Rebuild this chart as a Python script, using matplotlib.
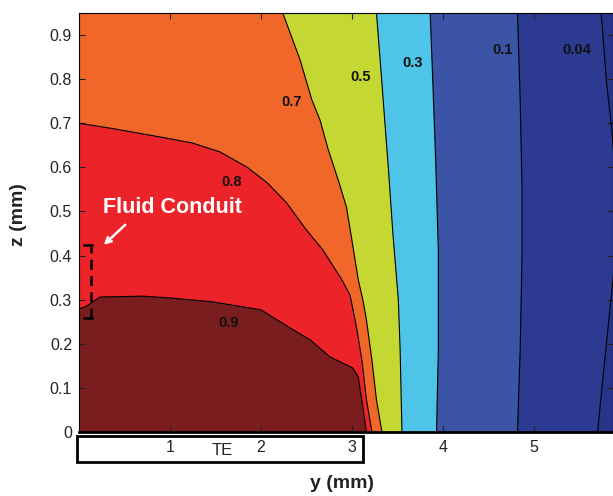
import matplotlib
matplotlib.use("Agg")
import matplotlib.pyplot as plt
from matplotlib.patches import Rectangle
import matplotlib.transforms as mtransforms
import numpy as np

plt.rcParams['font.family'] = ['Liberation Sans', 'DejaVu Sans']

# contour levels and the fill colour of the band just above each level
levels = [0.04, 0.1, 0.3, 0.5, 0.7, 0.8, 0.9]
band_colors = ['#2c3a91', '#3b54a5', '#4ec4e9', '#c5d732', '#f1672a', '#ec2328', '#7a1d1e']
below_color = '#27348a'

# boundary of each level: y (mm) and z (mm)
y_004 = [5.74, 5.80, 5.86, 5.92, 5.87, 5.79, 5.70]
z_004 = [0.95, 0.79, 0.68, 0.50, 0.345, 0.186, 0.0]

y_01 = [4.82, 4.85, 4.87, 4.87, 4.85, 4.82]
z_01 = [0.95, 0.75, 0.55, 0.40, 0.19, 0.0]

y_03 = [3.86, 3.89, 3.92, 3.95, 3.95, 3.93]
z_03 = [0.95, 0.79, 0.62, 0.41, 0.186, 0.0]

y_05 = [3.27, 3.33, 3.40, 3.45, 3.51, 3.53, 3.55]
z_05 = [0.95, 0.79, 0.60, 0.451, 0.30, 0.186, 0.0]

y_07 = [2.24, 2.43, 2.56, 2.65, 2.74, 2.85, 2.94, 3.00, 3.07, 3.12, 3.16, 3.22, 3.27, 3.33]
z_07 = [0.95, 0.844, 0.753, 0.707, 0.64, 0.571, 0.51, 0.435, 0.345, 0.30, 0.254, 0.163, 0.073, 0.0]

y_08 = [0.0, 0.34, 0.89, 1.25, 1.55, 1.85, 2.07, 2.28, 2.50, 2.68, 2.89, 2.98, 3.05, 3.11, 3.16, 3.22]
z_08 = [0.70, 0.689, 0.669, 0.655, 0.635, 0.60, 0.565, 0.52, 0.458, 0.413, 0.345, 0.31, 0.238, 0.163, 0.073, 0.0]

y_09 = [0.0, 0.08, 0.23, 0.70, 1.00, 1.47, 2.00, 2.32, 2.54, 2.76, 3.01, 3.07, 3.12, 3.16]
z_09 = [0.279, 0.285, 0.306, 0.308, 0.304, 0.295, 0.277, 0.236, 0.209, 0.170, 0.145, 0.125, 0.057, 0.0]

boundaries = [(y_004, z_004), (y_01, z_01), (y_03, z_03), (y_05, z_05),
              (y_07, z_07), (y_08, z_08), (y_09, z_09)]

# contour label text and positions
label_text = ['0.04', '0.1', '0.3', '0.5', '0.7', '0.8', '0.9']
label_y = [5.47, 4.66, 3.67, 3.10, 2.34, 1.68, 1.65]
label_z = [0.866, 0.866, 0.837, 0.805, 0.748, 0.567, 0.247]

# fluid conduit marker
conduit_y = 0.13
conduit_z = [0.258, 0.424]

fig = plt.figure(figsize=(6.13, 4.96), dpi=100)
ax = fig.add_axes([79 / 613, 64 / 496, 534 / 613, 419 / 496])
ax.set_xlim(0, 5.87)
ax.set_ylim(0, 0.95)
ax.set_facecolor(below_color)

for (by, bz), col in zip(boundaries, band_colors):
    py = list(by)
    pz = list(bz)
    if pz[0] < 0.95:
        # boundary starts on the left edge
        py = py + [0.0]
        pz = pz + [0.0]
    else:
        py = py + [0.0, 0.0]
        pz = pz + [0.0, 0.95]
    ax.fill(py, pz, color=col, lw=0, zorder=1)

for by, bz in boundaries:
    ax.plot(by, bz, color='black', lw=0.8, zorder=2)

for t, ly, lz in zip(label_text, label_y, label_z):
    ax.text(ly, lz, t, fontsize=10.5, fontweight='bold', ha='center', va='center',
            color='#111111', zorder=3)

# fluid conduit dashed marker with caps
ax.plot([conduit_y, conduit_y], conduit_z, color='black', lw=1.8, ls=(0, (4, 2.5)),
        zorder=3, clip_on=False)
for cz in conduit_z:
    ax.plot([0.06, 0.14], [cz, cz], color='black', lw=1.8, zorder=3)
ax.annotate('', xy=(0.25, 0.42), xytext=(0.53, 0.474),
            arrowprops=dict(arrowstyle='->', color='white', lw=1.8), zorder=4)
ax.text(0.26, 0.508, 'Fluid Conduit', color='white', fontsize=15.5, fontweight='bold',
        ha='left', va='center', zorder=4)

ax.set_xticks([1, 2, 3, 4, 5])
ax.set_yticks(np.arange(0, 0.91, 0.1))
ax.set_yticklabels(['0', '0.1', '0.2', '0.3', '0.4', '0.5', '0.6', '0.7', '0.8', '0.9'])
ax.tick_params(direction='in', top=True, right=True, length=4, width=0.8,
               labelsize=11.5, labelcolor='#222222', color='#222222')
ax.tick_params(axis='x', pad=6)
ax.tick_params(axis='y', pad=5)
for side in ['left', 'top', 'right']:
    ax.spines[side].set_linewidth(0.8)
ax.spines['bottom'].set_linewidth(2.0)

# TE box under the axis
trans = mtransforms.blended_transform_factory(ax.transData, ax.transAxes)
ax.add_patch(Rectangle((-0.02, -0.0716), 3.14, 0.062, transform=trans, fill=False,
                       edgecolor='black', lw=2, clip_on=False, zorder=5))
ax.text(1.57, -0.043, 'TE', transform=trans, fontsize=12, ha='center', va='center',
        color='#222222')

ax.text(0.4925, -0.122, 'y (mm)', transform=ax.transAxes, fontsize=14,
        fontweight='bold', ha='center', va='center', color='#222222')
ax.text(-0.114, 0.518, 'z (mm)', transform=ax.transAxes, fontsize=14,
        fontweight='bold', ha='center', va='center', rotation=90, color='#222222')

fig.savefig('out.png', dpi=100)
